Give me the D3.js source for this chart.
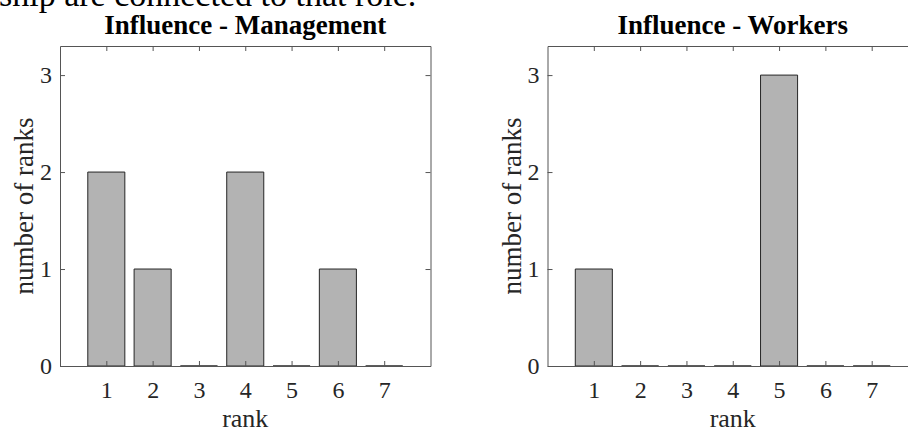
<!DOCTYPE html>
<html>
<head>
<meta charset="utf-8">
<script src="https://cdn.jsdelivr.net/npm/d3@7"></script>
<style>
  html, body { margin: 0; padding: 0; background: #fff; }
  svg { display: block; }
  text { font-family: "Liberation Serif", "Times New Roman", serif; }
</style>
</head>
<body>
<svg id="chart" width="908" height="432"></svg>
<script>
// ---- data ----
const ranks = [1, 2, 3, 4, 5, 6, 7];
const management = [2, 1, 0, 2, 0, 1, 0];
const workers = [1, 0, 0, 0, 3, 0, 0];
const yTicks = [0, 1, 2, 3];
const titles = ["Influence - Management", "Influence - Workers"];
const xLabel = "rank";
const yLabel = "number of ranks";
const captionTail = "ship are connected to that role.";

const svg = d3.select("#chart");

// partially visible body text above the figure (cropped at the top edge)
svg.append("text")
  .attr("x", -1).attr("y", 6)
  .attr("font-size", 34)
  .attr("fill", "#000")
  .text(captionTail);

const panels = [
  { title: titles[0], values: management, left: 60, right: 430.5 },
  { title: titles[1], values: workers, left: 547.5, right: 918 }
];
const plotTop = 46, plotBottom = 366;

panels.forEach(p => {
  const g = svg.append("g");
  const x = d3.scaleLinear().domain([0, 8]).range([p.left, p.right]);
  const y = d3.scaleLinear().domain([0, 3.3]).range([plotBottom, plotTop]);
  const bw = (x(1) - x(0)) * 0.8;

  // bars
  g.selectAll("path.bar").data(ranks).join("path")
    .attr("class", "bar")
    .attr("d", (r, i) => {
      const x0 = x(r) - bw / 2, x1 = x(r) + bw / 2;
      return `M${x0},${y(0)}H${x1}V${y(p.values[i])}H${x0}Z`;
    })
    .attr("fill", "#b3b3b3")
    .attr("stroke", "#262626")
    .attr("stroke-width", 1);

  // axes (ticks inward)
  const axCol = "#555";
  const xb = g.append("g").attr("transform", `translate(0,${plotBottom})`)
    .call(d3.axisBottom(x).tickValues(ranks).tickFormat(d3.format("d"))
      .tickSizeInner(-5).tickSizeOuter(0).tickPadding(15));
  const xt = g.append("g").attr("transform", `translate(0,${plotTop})`)
    .call(d3.axisTop(x).tickValues(ranks).tickSizeInner(-5).tickSizeOuter(0).tickFormat(""));
  const yl = g.append("g").attr("transform", `translate(${p.left},0)`)
    .call(d3.axisLeft(y).tickValues(yTicks).tickFormat(d3.format("d"))
      .tickSizeInner(-5).tickSizeOuter(0).tickPadding(8));
  const yr = g.append("g").attr("transform", `translate(${p.right},0)`)
    .call(d3.axisRight(y).tickValues(yTicks).tickSizeInner(-5).tickSizeOuter(0).tickFormat(""));
  [xb, xt, yl, yr].forEach(a => {
    a.selectAll("path.domain").attr("stroke", axCol).attr("stroke-width", 1);
    a.selectAll(".tick line").attr("stroke", axCol).attr("stroke-width", 1);
    a.selectAll(".tick text")
      .attr("font-family", "Liberation Serif, Times New Roman, serif")
      .attr("font-size", 24).attr("fill", "#262626");
  });

  // title
  g.append("text")
    .attr("x", (p.left + p.right) / 2).attr("y", 34)
    .attr("text-anchor", "middle")
    .attr("font-size", 27).attr("font-weight", "bold")
    .attr("fill", "#000")
    .text(p.title);

  // axis labels
  g.append("text")
    .attr("x", (p.left + p.right) / 2).attr("y", 427)
    .attr("text-anchor", "middle")
    .attr("font-size", 26).attr("fill", "#262626")
    .text(xLabel);
  g.append("text")
    .attr("transform", `translate(${p.left - 27},${(plotTop + plotBottom) / 2}) rotate(-90)`)
    .attr("text-anchor", "middle")
    .attr("font-size", 27).attr("fill", "#262626")
    .text(yLabel);
});
</script>
</body>
</html>
